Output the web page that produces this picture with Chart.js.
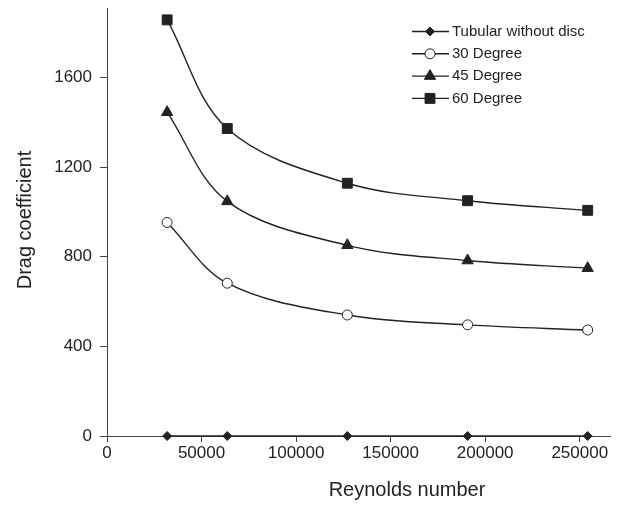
<!DOCTYPE html>
<html>
<head>
<meta charset="utf-8">
<script src="https://cdn.jsdelivr.net/npm/chart.js@4.4.0/dist/chart.umd.min.js"></script>
<style>
  html, body { margin: 0; padding: 0; background: #fff; }
  #wrap { width: 619px; height: 506px; }
</style>
</head>
<body>
<div id="wrap"><canvas id="dragChart"></canvas></div>
<script>
const reynolds = [31800, 63600, 127100, 190700, 254200];
const tubular = [0, 0, 0, 0, 0];
const deg30 = [953, 682, 540, 496, 473];
const deg45 = [1445, 1047, 851, 783, 749];
const deg60 = [1857, 1372, 1128, 1050, 1007];
const xTicks = [0, 50000, 100000, 150000, 200000, 250000];
const yTicks = [0, 400, 800, 1200, 1600];

const ink = "#222";
const axisInk = "#444";
const fontFamily = "'Liberation Sans', Arial, Helvetica, sans-serif";

function series(label, values, style, radius, fill) {
  return {
    label,
    data: reynolds.map((x, i) => ({ x, y: values[i] })),
    borderColor: ink,
    borderWidth: 1.4,
    tension: 0.35,
    clip: false,
    pointStyle: style,
    pointRadius: radius,
    pointHoverRadius: radius,
    pointBackgroundColor: fill,
    pointBorderColor: ink,
    pointBorderWidth: 1,
  };
}

// legend drawn as line + marker + label, plus the two axis titles
const legendAndTitles = {
  id: "legendAndTitles",
  afterDraw(chart) {
    const ctx = chart.ctx;
    const area = chart.chartArea;
    const x0 = area.right - 198;
    ctx.save();
    ctx.font = "15px " + fontFamily;
    ctx.textBaseline = "middle";
    chart.data.datasets.forEach((ds, i) => {
      const y = area.top + 23.5 + i * 22.3;
      ctx.strokeStyle = ink;
      ctx.lineWidth = 1.4;
      ctx.beginPath();
      ctx.moveTo(x0, y);
      ctx.lineTo(x0 + 37, y);
      ctx.stroke();
      ctx.lineWidth = 1;
      ctx.fillStyle = ds.pointBackgroundColor;
      Chart.helpers.drawPoint(ctx, {
        pointStyle: ds.pointStyle,
        radius: ds.pointRadius,
        borderWidth: 1,
        rotation: 0,
      }, x0 + 18, y);
      ctx.fillStyle = ink;
      ctx.textAlign = "left";
      ctx.fillText(ds.label, x0 + 40, y);
    });

    ctx.font = "20px " + fontFamily;
    ctx.fillStyle = ink;
    ctx.textAlign = "center";
    ctx.fillText("Reynolds number", area.left + 300, chart.height - 15.5);
    ctx.translate(25, (area.top + area.bottom) / 2 - 2);
    ctx.rotate(-Math.PI / 2);
    ctx.fillText("Drag coefficient", 0, 0);
    ctx.restore();
  },
};

new Chart(document.getElementById("dragChart"), {
  type: "line",
  data: {
    datasets: [
      series("Tubular without disc", tubular, "rectRot", 4.5, ink),
      series("30 Degree", deg30, "circle", 5, "#fff"),
      series("45 Degree", deg45, "triangle", 6.5, ink),
      series("60 Degree", deg60, "rect", 7, ink),
    ],
  },
  options: {
    responsive: true,
    maintainAspectRatio: false,
    animation: false,
    layout: { padding: { left: 0, top: 5, right: 9, bottom: 0 } },
    plugins: {
      legend: { display: false },
      tooltip: { enabled: false },
    },
    scales: {
      x: {
        type: "linear",
        min: 0,
        max: 266000,
        afterBuildTicks: (s) => { s.ticks = xTicks.map((v) => ({ value: v })); },
        afterFit: (s) => {
          s.height = 70;
          s.paddingLeft = 0;
          s.paddingRight = 0;
        },
        border: { display: true, color: axisInk, width: 1 },
        grid: { drawOnChartArea: false, drawTicks: true, tickLength: 6, color: axisInk },
        ticks: {
          color: ink,
          padding: 1,
          maxRotation: 0,
          autoSkip: false,
          font: { family: fontFamily, size: 17 },
          callback: (v) => String(v),
        },
      },
      y: {
        type: "linear",
        min: 0,
        max: 1910,
        afterBuildTicks: (s) => { s.ticks = yTicks.map((v) => ({ value: v })); },
        afterFit: (s) => {
          s.width = 107;
          s.paddingTop = 0;
          s.paddingBottom = 0;
        },
        border: { display: true, color: axisInk, width: 1 },
        grid: { drawOnChartArea: false, drawTicks: true, tickLength: 7, color: axisInk },
        ticks: {
          color: ink,
          padding: 8,
          autoSkip: false,
          font: { family: fontFamily, size: 17 },
          callback: (v) => String(v),
        },
      },
    },
  },
  plugins: [legendAndTitles],
});
</script>
</body>
</html>
